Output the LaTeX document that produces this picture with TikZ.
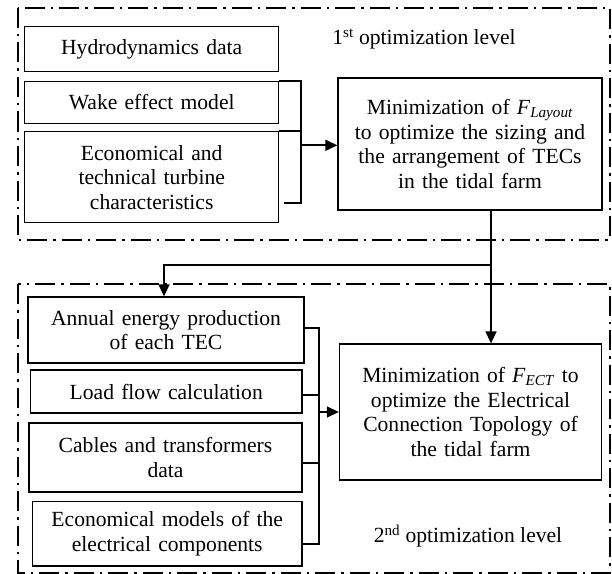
\documentclass[tikz,border=0pt]{standalone}
\usepackage{fontspec}
\setmainfont{Liberation Serif}
\usetikzlibrary{arrows.meta}
\begin{document}
\begin{tikzpicture}[x=1bp,y=-1bp,
  box/.style={draw, line width=1.3bp, inner sep=2bp, align=center, text width=#1},
  box/.default=240bp,
  level/.style={draw, line width=1.8bp, dash pattern=on 20bp off 6bp on 2.5bp off 6bp},
  conn/.style={line width=1.6bp},
  arr/.style={conn, -{Triangle[length=12bp,width=11bp]}},
  lbl/.style={inner sep=0pt}
]
\useasboundingbox (0,0) rectangle (612,574);
\fontsize{21.6bp}{24.5bp}\selectfont
% optimization level frames
\draw[level] (17.6,8) rectangle (610,240);
\draw[level] (17.6,284) rectangle (610,573);
\node[lbl] (l1) at (424,39) {1\textsuperscript{st} optimization level};
\node[lbl] (l2) at (468,536) {2\textsuperscript{nd} optimization level};
% level 1 boxes
\node[box, minimum width=254.2bp, minimum height=45bp] (hyd) at (151.7,49.2) {Hydrodynamics data};
\node[box, minimum width=254.2bp, minimum height=41.6bp] (wake) at (151.7,102.5) {Wake effect model};
\node[box, minimum width=254.2bp, minimum height=91bp] (econ) at (151.7,177.2) {Economical and\\technical turbine\\characteristics};
\node[box=255bp, minimum width=264bp, minimum height=132bp] (min1) at (470,144) {Minimization of \textit{F}\textsubscript{\textit{Layout}}\\to optimize the sizing and\\the arrangement of TECs\\in the tidal farm};
% level 2 boxes
\node[box=270bp, minimum width=276bp, minimum height=66bp] (annual) at (166,330) {Annual energy production\\of each TEC};
\node[box, minimum width=271.5bp, minimum height=43bp] (load) at (166.25,391.5) {Load flow calculation};
\node[box=265bp, minimum width=273bp, minimum height=69bp] (cables) at (165.5,457.5) {Cables and transformers\\data};
\node[box=265bp, minimum width=269.5bp, minimum height=64.3bp] (emod) at (167.25,533.85) {Economical models of the\\electrical components};
\node[box=255bp, minimum width=262bp, minimum height=136bp] (min2) at (470.5,412) {Minimization of \textit{F}\textsubscript{\textit{ECT}} to\\optimize the Electrical\\Connection Topology of\\the tidal farm};
% bracket level 1
\coordinate (b1) at (301,202.7);
\draw[conn] (wake.north east) -| (b1) -- ([xshift=5bp]econ.east |- b1);
\draw[conn] (econ.north east) -- (econ.north east -| b1);
\draw[arr] ([yshift=-1.3bp]min1.west -| b1) -- ([yshift=-1.3bp]min1.west);
% bracket level 2
\coordinate (b2) at (319,544);
\draw[conn] ([yshift=2bp]annual.east) -| (b2) -- (emod.east |- b2);
\draw[conn] ([yshift=-3.5bp]load.east) -- ([yshift=-3.5bp]load.east -| b2);
\draw[conn] ([yshift=-5.5bp]cables.east) -- ([yshift=-5.5bp]cables.east -| b2);
\draw[arr] (min2.west -| b2) -- (min2.west);
% flow between levels
\coordinate (j) at (491,265);
\coordinate (k) at (164,265);
\draw[conn] (min1.south -| j) -- (j);
\draw[arr] (j) -- (k) -- (annual.north -| k);
\draw[arr] (j) -- (min2.north -| j);
\end{tikzpicture}
\end{document}
